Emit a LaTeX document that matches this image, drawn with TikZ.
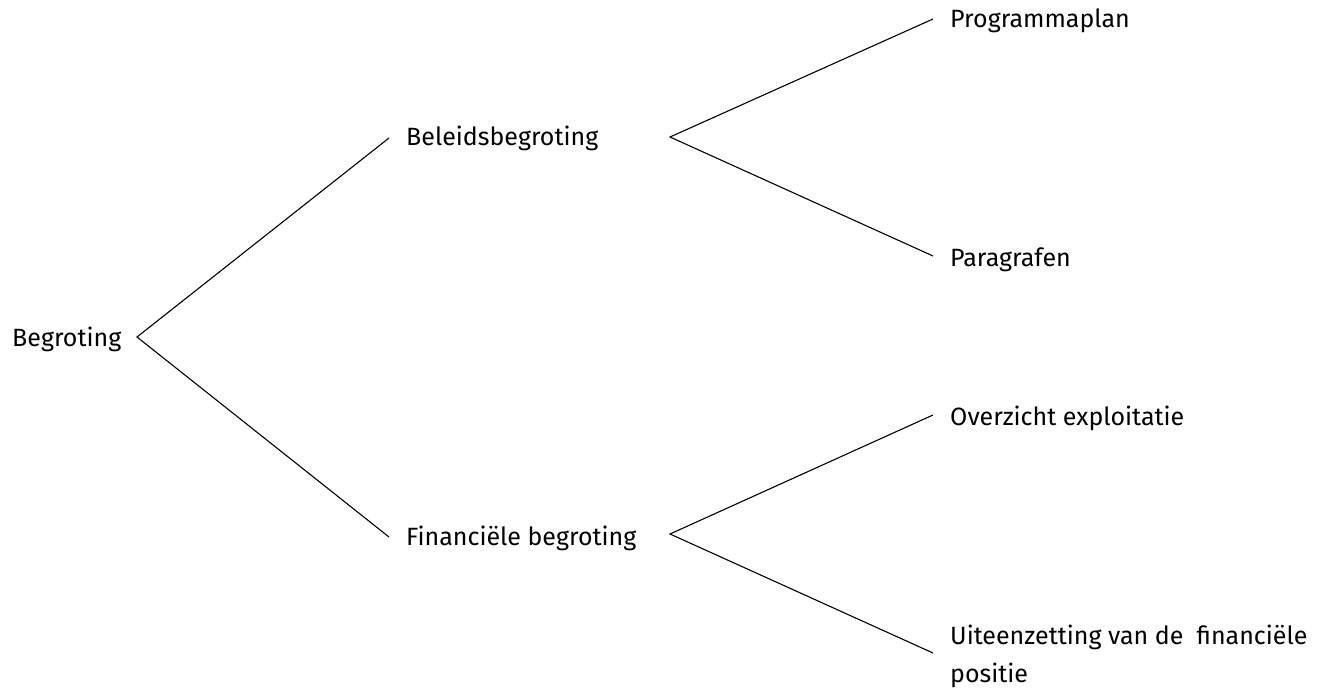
\documentclass[tikz,border=0pt]{standalone}
\usepackage{fontspec}
\setmainfont{Fira Sans}
\usetikzlibrary{calc}
\begin{document}
\begin{tikzpicture}[x=1pt,y=-1pt,
  lbl/.style={anchor=base west, inner sep=0pt, font=\fontsize{25}{38}\selectfont},
  conn/.style={line width=1.1pt, black}]
\useasboundingbox (0,0) rectangle (1329,690);
\node[lbl] (begr) at (12,346) {Begroting};
\node[lbl] (beleid) at (406,146) {Beleidsbegroting};
\node[lbl] (fin) at (406,545) {Financiële begroting};
\node[lbl] (prog) at (950,28) {Programmaplan};
\node[lbl] (para) at (950,266) {Paragrafen};
\node[lbl] (over) at (950,425) {Overzicht exploitatie};
\node[lbl, align=left] (uit) at (950,682) {Uiteenzetting van de\ \ financiële\\positie};
\coordinate (v0) at (137,337);
\coordinate (v1) at (670,137);
\coordinate (v2) at (670,534);
\draw[conn] ($(beleid.base west)+(-17,-8)$) -- (v0) -- ($(fin.base west)+(-17,-8)$);
\draw[conn] ($(prog.base west)+(-17,-9)$) -- (v1) -- ($(para.base west)+(-17,-10)$);
\draw[conn] ($(over.base west)+(-17,-10)$) -- (v2) -- ($(uit.base west)+(-17,-29)$);
\end{tikzpicture}
\end{document}
